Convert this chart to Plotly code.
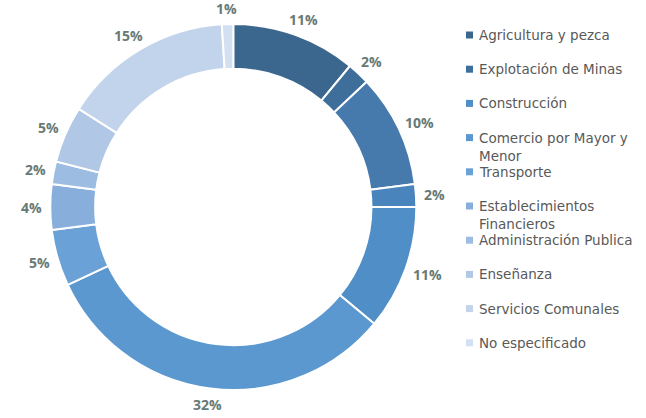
import math
import textwrap
import plotly.graph_objects as go

# Employment share by economic sector (percent), clockwise from 12 o'clock
sectores = [
    "Agricultura y pezca",
    "Explotación de Minas",
    "Industrias Manufactureras",
    "Electricidad, Gas y Agua",
    "Construcción",
    "Comercio por Mayor y Menor",
    "Transporte",
    "Establecimientos Financieros",
    "Administración Publica",
    "Enseñanza",
    "Servicios Comunales",
    "No especificado",
]
porcentajes = [11, 2, 10, 2, 11, 32, 5, 4, 2, 5, 15, 1]
colores = [
    "#3b668d", "#3e6e9a", "#467aad", "#4a84bc", "#508ec7", "#5b98d0",
    "#6aa1d6", "#88afdb", "#9dbce1", "#b0c8e6", "#c2d4eb", "#d3e0f1",
]
# Sectors listed in the legend
leyenda = [
    "Agricultura y pezca",
    "Explotación de Minas",
    "Construcción",
    "Comercio por Mayor y Menor",
    "Transporte",
    "Establecimientos Financieros",
    "Administración Publica",
    "Enseñanza",
    "Servicios Comunales",
    "No especificado",
]

W, H = 646, 418
CX, CY, R = 233.3, 207.0, 183.0  # ring centre and outer radius, in pixels
HOLE = 0.755

LABEL_COLOR = "#687a75"
LEGEND_COLOR = "#595959"

fig = go.Figure(
    go.Pie(
        labels=sectores,
        values=porcentajes,
        sort=False,
        direction="clockwise",
        rotation=0,
        hole=HOLE,
        marker=dict(colors=colores, line=dict(color="white", width=2)),
        textinfo="none",
        hoverinfo="label+percent",
        showlegend=False,
        domain=dict(
            x=[(CX - R) / W, (CX + R) / W],
            y=[1 - (CY + R) / H, 1 - (CY - R) / H],
        ),
    )
)

annotations = []
shapes = []

# Percentage labels just outside the ring, at each slice's mid-angle
total = sum(porcentajes)
acum = 0.0
for v in porcentajes:
    mid = (acum + v / 2) / total * 2 * math.pi
    acum += v
    s, c = math.sin(mid), math.cos(mid)
    txt = f"{v}%"
    w, h, gap = 9.5 * len(txt), 14, 9
    px = CX + (R + gap) * s + (w / 2) * s
    py = CY - (R + gap) * c - (h / 2) * c
    annotations.append(
        dict(
            x=px / W, y=1 - py / H, xref="paper", yref="paper",
            text=f"<b>{txt}</b>", showarrow=False,
            xanchor="center", yanchor="middle",
            font=dict(family="Open Sans", size=14, color=LABEL_COLOR),
        )
    )

# Legend: square swatch + (wrapped) sector name
color_de = dict(zip(sectores, colores))
LX, LY0, LSTEP, SQ = 466.0, 35.0, 34.2, 7.0
for i, nombre in enumerate(leyenda):
    yc = LY0 + i * LSTEP
    shapes.append(
        dict(
            type="rect", xref="paper", yref="paper",
            x0=LX / W, x1=(LX + SQ) / W,
            y0=1 - (yc + SQ / 2) / H, y1=1 - (yc - SQ / 2) / H,
            fillcolor=color_de[nombre], line=dict(width=0),
        )
    )
    annotations.append(
        dict(
            x=(LX + SQ + 4) / W, y=1 - (yc - 10) / H,
            xref="paper", yref="paper",
            text="<br>".join(textwrap.wrap(nombre, 22)),
            showarrow=False, xanchor="left", yanchor="top", align="left",
            font=dict(family="DejaVu Sans", size=13.5, color=LEGEND_COLOR),
        )
    )

fig.update_layout(
    width=W,
    height=H,
    margin=dict(l=0, r=0, t=0, b=0),
    paper_bgcolor="white",
    plot_bgcolor="white",
    annotations=annotations,
    shapes=shapes,
)

fig.write_html("out.html")
